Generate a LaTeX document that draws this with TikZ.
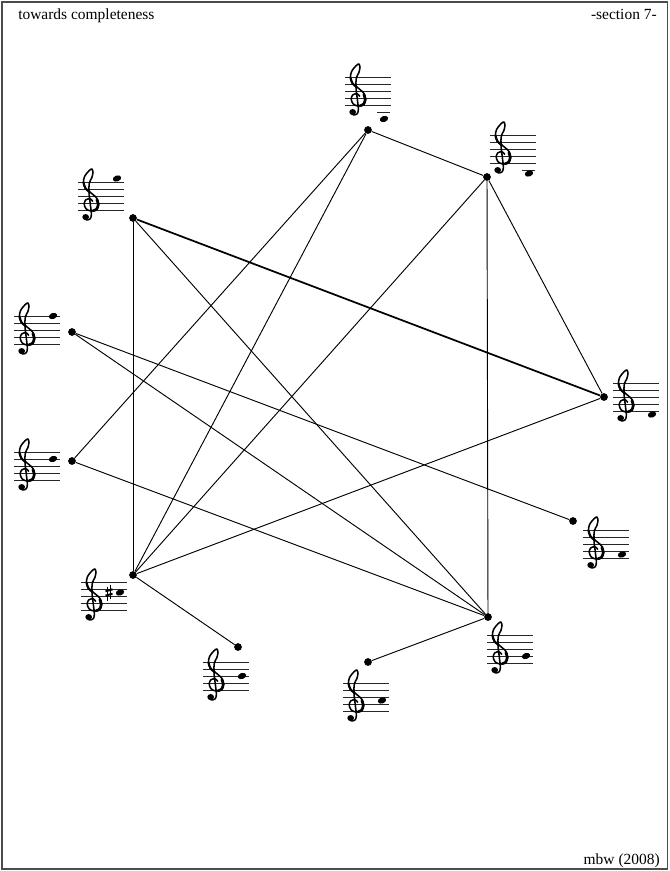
\documentclass[tikz,border=0pt]{standalone}
\usepackage{fontspec}
\setmainfont{Liberation Serif}

\tikzset{
  vertex/.style={circle,fill,inner sep=0pt,minimum size=5.8pt},
  edge/.style={line width=0.7pt},
  stafflines/.style={line width=0.6pt,black!85},
  clefline/.style={line width=1.15pt,line cap=round},
  headtext/.style={inner sep=0pt,font=\fontsize{11.6}{13}\selectfont},
}

% the treble clef, in staff spaces, bottom line at y=0
\newcommand{\gclefsign}{%
  \draw[clefline] plot[smooth,tension=0.55] coordinates {
      (0.45,1.25) (0.15,1.6) (-0.4,1.45) (-0.6,0.85) (-0.35,0.15) (0.3,-0.15)
      (0.95,0.1) (1.2,0.8) (1.0,1.65) (0.35,2.35) (-0.35,3.0) (-0.7,3.8)
      (-0.55,4.8) (0.0,5.6) (0.35,5.85) (0.5,5.4) (0.35,4.6) (0.05,3.9)
      (0.0,2.5) (0.2,0.5) (0.3,-0.6) (0.15,-1.25) (-0.3,-1.42) (-0.6,-1.2)};
  \draw[clefline,line width=2pt] plot[smooth,tension=0.55] coordinates {
      (0.5,-0.1) (0.95,0.12) (1.15,0.8) (0.98,1.5)};
  \draw[clefline,line width=1.6pt] plot[smooth,tension=0.55] coordinates {
      (0.1,2.55) (-0.45,3.1) (-0.65,3.8)};
  \fill (-0.42,-1.0) circle [radius=0.42];}

% a treble staff: left end, top line, note step above the bottom line, extra marks
\newcommand{\gstaff}[4]{%
  \begin{scope}[shift={(#1,#2)}]
    \pgfmathsetmacro{\notey}{28-(#3)*3.5}
    \foreach \l in {0,...,4}
      \draw[stafflines] (0,\l*7) -- (46,\l*7);
    \begin{scope}[shift={(11,28)},x=6pt,y=5.25pt]
      \gclefsign
    \end{scope}
    \ifnum#3<-2 \draw[stafflines] (32,35) -- (45,35); \fi
    \ifnum#3<-4 \draw[stafflines] (32,42) -- (45,42); \fi
    \fill[rotate around={20:(39,\notey)}] (39,\notey) ellipse [x radius=4.3, y radius=3];
    #4
  \end{scope}}

\newcommand{\sharpsign}{%
  \draw[line width=0.5pt] (26.5,\notey-6) -- (26.5,\notey+8)
                          (29.5,\notey-8) -- (29.5,\notey+6);
  \draw[line width=1.5pt] (24.5,\notey-1.2) -- (31.5,\notey-3.2)
                          (24.5,\notey+3.2) -- (31.5,\notey+1.2);}

\begin{document}
\begin{tikzpicture}[x=0.75pt,y=-0.75pt]
  \useasboundingbox (0,0) rectangle (669,871);
  \draw[line width=1pt,black!70] (2,2) rectangle (667.5,869);

  \node[headtext,anchor=base west] (title) at (18,19) {towards completeness};
  \node[headtext,anchor=base east] (section) at (657,19) {-section 7-};
  \node[headtext,anchor=base east] (sign) at (660,864) {mbw (2008)};

  % the points
  \node[vertex] (a3) at (368,130) {};
  \node[vertex] (b3) at (487,177) {};
  \node[vertex] (d4) at (604,397) {};
  \node[vertex] (f4) at (573,521) {};
  \node[vertex] (g4) at (488,617) {};
  \node[vertex] (a4) at (368,662) {};
  \node[vertex] (b4) at (238,647) {};
  \node[vertex] (cs5) at (133,575) {};
  \node[vertex] (d5) at (72,461) {};
  \node[vertex] (f5) at (72,332) {};
  \node[vertex] (g5) at (133,218) {};

  % the staves
  \gstaff{345}{77}{-4}{}
  \gstaff{490}{135}{-3}{}
  \gstaff{613}{383}{-1}{}
  \gstaff{583}{530}{1}{}
  \gstaff{487}{635}{2}{}
  \gstaff{343}{683}{3}{}
  \gstaff{203}{662}{4}{}
  \gstaff{81}{582}{5}{\sharpsign}
  \gstaff{14}{452}{6}{}
  \gstaff{14}{316}{8}{}
  \gstaff{78}{182}{9}{}

  % the edges
  \draw[edge] (a3) -- (b3);
  \draw[edge] (a3) -- (d5);
  \draw[edge] (a3) -- (cs5);
  \draw[edge] (b3) -- (cs5);
  \draw[edge] (b3) -- (g4);
  \draw[edge] (b3) -- (d4);
  \draw[edge,line width=1.3pt] (g5) -- (d4);
  \draw[edge] (g5) -- (g4);
  \draw[edge] (g5) -- (cs5);
  \draw[edge] (f5) -- (f4);
  \draw[edge] (f5) -- (g4);
  \draw[edge] (d5) -- (g4);
  \draw[edge] (d4) -- (cs5);
  \draw[edge] (cs5) -- (b4);
  \draw[edge] (a4) -- (g4);
\end{tikzpicture}
\end{document}
